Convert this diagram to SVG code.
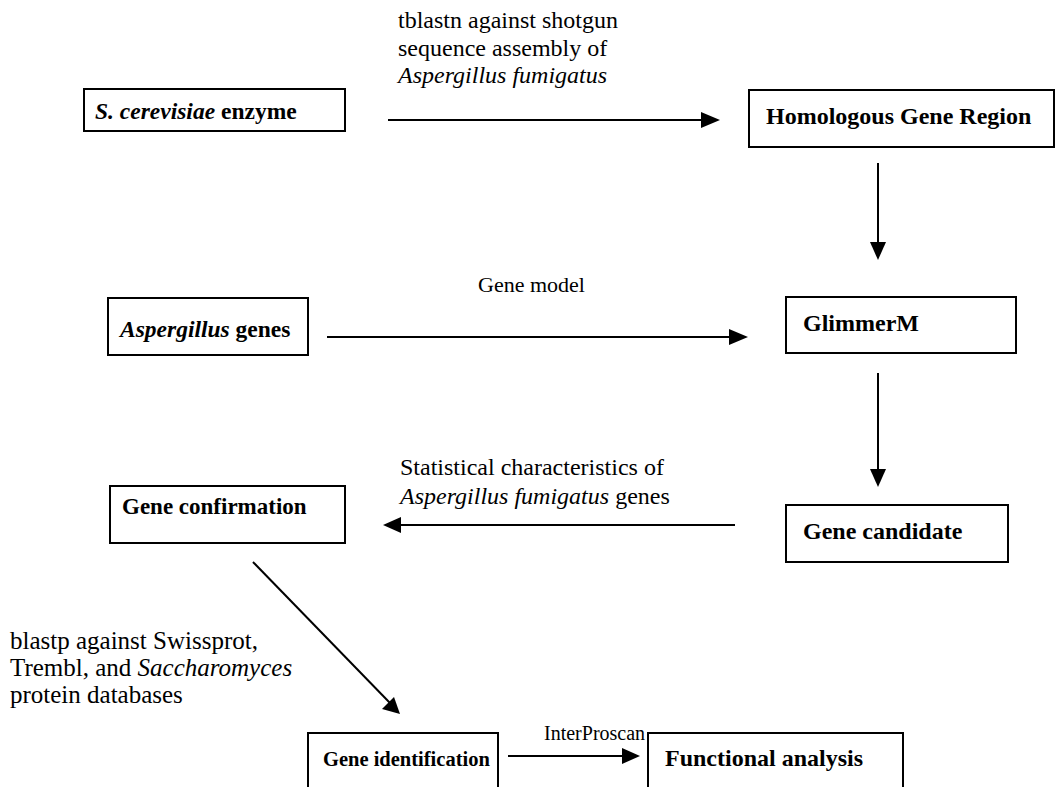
<svg xmlns="http://www.w3.org/2000/svg" width="1056" height="787" viewBox="0 0 1056 787">
<style>
.box{fill:#fff;stroke:#000;stroke-width:2}
.bt{font-family:"Liberation Serif",serif;font-weight:bold;fill:#000}
.lt{font-family:"Liberation Serif",serif;fill:#000}
.ln{stroke:#000;stroke-width:2;fill:none}
</style>
<rect width="1056" height="787" fill="#fff"/>
<g id="connectors">
<line class="ln" x1="388" y1="120" x2="703" y2="120"/>
<path d="M701,112 L720,120 L701,128 Z"/>
<line class="ln" x1="878" y1="163" x2="878" y2="244"/>
<path d="M870,242 L878,260 L886,242 Z"/>
<line class="ln" x1="327" y1="337" x2="731" y2="337"/>
<path d="M729,329 L748,337 L729,345 Z"/>
<line class="ln" x1="878" y1="373" x2="878" y2="471"/>
<path d="M870,469 L878,487 L886,469 Z"/>
<line class="ln" x1="735" y1="525" x2="398" y2="525"/>
<path d="M401,517 L383,525 L401,533 Z"/>
<line class="ln" x1="253" y1="562" x2="390" y2="703"/>
<path d="M382,709 L400,714 L394,697 Z"/>
<line class="ln" x1="508" y1="756" x2="625" y2="756"/>
<path d="M622,748 L640,756 L622,764 Z"/>
</g>
<g id="labels">
<text class="lt" x="398" y="28" style="font-size:24px">tblastn against shotgun</text>
<text class="lt" x="398" y="56" style="font-size:24px">sequence assembly of</text>
<text class="lt" x="398" y="83" style="font-size:24px;font-style:italic">Aspergillus fumigatus</text>
<text class="lt" x="478" y="292" style="font-size:22px">Gene model</text>
<text class="lt" x="400" y="475" style="font-size:24px">Statistical characteristics of</text>
<text class="lt" x="400" y="504" style="font-size:24px"><tspan style="font-style:italic">Aspergillus fumigatus</tspan> genes</text>
<text class="lt" x="10" y="649" style="font-size:25px">blastp against Swissprot,</text>
<text class="lt" x="10" y="676" style="font-size:25px">Trembl, and <tspan style="font-style:italic">Saccharomyces</tspan></text>
<text class="lt" x="10" y="703" style="font-size:25px">protein databases</text>
<text class="lt" x="544" y="740" style="font-size:20px">InterProscan</text>
</g>
<g id="n-scerevisiae">
<rect class="box" x="84" y="89" width="261" height="42"/>
<text class="bt" x="95" y="119" style="font-size:23.5px"><tspan style="font-style:italic">S. cerevisiae</tspan> enzyme</text>
</g>
<g id="n-homologous">
<rect class="box" x="749" y="90" width="305" height="57"/>
<text class="bt" x="766" y="124" style="font-size:24px">Homologous Gene Region</text>
</g>
<g id="n-aspergillus">
<rect class="box" x="108" y="298" width="200" height="57"/>
<text class="bt" x="120" y="337" style="font-size:23.5px"><tspan style="font-style:italic">Aspergillus</tspan> genes</text>
</g>
<g id="n-glimmerm">
<rect class="box" x="786" y="297" width="230" height="56"/>
<text class="bt" x="803" y="331" style="font-size:24px">GlimmerM</text>
</g>
<g id="n-confirmation">
<rect class="box" x="110" y="486" width="235" height="57"/>
<text class="bt" x="122" y="514" style="font-size:23px">Gene confirmation</text>
</g>
<g id="n-candidate">
<rect class="box" x="786" y="505" width="222" height="57"/>
<text class="bt" x="803" y="539" style="font-size:24px">Gene candidate</text>
</g>
<g id="n-identification">
<rect class="box" x="308" y="733" width="190" height="60"/>
<text class="bt" x="323" y="766" style="font-size:20.5px">Gene identification</text>
</g>
<g id="n-functional">
<rect class="box" x="648" y="733" width="255" height="60"/>
<text class="bt" x="665" y="766" style="font-size:24px">Functional analysis</text>
</g>
</svg>
